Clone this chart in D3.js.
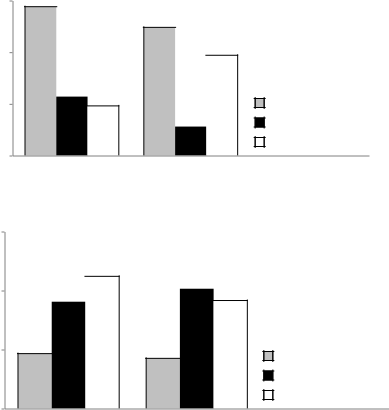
<!DOCTYPE html>
<html>
<head>
<meta charset="utf-8">
<script src="https://cdn.jsdelivr.net/npm/d3@7"></script>
<style>
  body { margin: 0; background: #fff; }
  svg { display: block; }
</style>
</head>
<body>
<svg width="389" height="410"></svg>
<script>
// three slots per chart, the last one only holds the legend
var categories = ["g1", "g2", "g3"];
var series = ["grey", "black", "white"];
var seriesColors = ["#c0c0c0", "#000000", "#ffffff"];
var tickValues = [0, 1, 2, 3];

var topGrey  = [2.88, 2.48];
var topBlack = [1.14, 0.56];
var topWhite = [0.96, 1.94];

var botGrey  = [0.93, 0.85];
var botBlack = [1.81, 2.03];
var botWhite = [2.24, 1.83];

var svg = d3.select("svg");

function drawChart(box, values) {
  var g = svg.append("g");

  var x0 = d3.scaleBand().domain(categories).range([box.left, box.right]).padding(0);
  var x1 = d3.scaleBand().domain(series).range([0, x0.bandwidth()]).paddingInner(0).paddingOuter(0.4);
  var y = d3.scaleLinear().domain([0, 3]).range([box.bottom, box.top]);

  // bars
  values.forEach(function(vals, si) {
    vals.forEach(function(v, ci) {
      var xl = x0(categories[ci]) + x1(series[si]),
          xr = xl + x1.bandwidth(),
          yt = y(v), yb = y(0);
      g.append("rect")
        .attr("x", xl).attr("y", yt)
        .attr("width", xr - xl).attr("height", yb - yt)
        .attr("fill", seriesColors[si]);
      var d = null;
      if (si == 0) d = "M" + xl + "," + yb + "V" + (yt - 1) + "M" + (xl - 1) + "," + yt + "H" + (xr + 1);
      if (si == series.length - 1) d = "M" + (xl - 1) + "," + yt + "H" + (xr + 0.5) + "M" + xr + "," + (yt - 1) + "V" + yb;
      if (d) g.append("path").attr("d", d).attr("stroke", "#000").attr("stroke-width", 1).attr("fill", "none");
    });
  });

  // axes
  var yAxis = g.append("g")
    .attr("transform", "translate(" + box.left + ",0)")
    .call(d3.axisLeft(y).tickValues(tickValues).tickSize(3).tickSizeOuter(0).tickFormat(""));
  var xAxis = g.append("g")
    .attr("transform", "translate(0," + box.bottom + ")")
    .call(d3.axisBottom(x0).tickSize(0).tickSizeOuter(0).tickFormat(""));
  g.selectAll(".domain, .tick line").attr("stroke", "#808080");

  // legend, no labels in the original
  var lx = x0(categories[2]) + box.legendDx, s = 9;
  series.forEach(function(name, i) {
    var ly = box.bottom - 13.5 - (series.length - 1 - i) * 19.5 - s / 2;
    g.append("rect")
      .attr("x", lx).attr("y", ly).attr("width", s).attr("height", s)
      .attr("fill", seriesColors[i]).attr("stroke", "#000").attr("stroke-width", 1);
    g.append("path")
      .attr("d", "M" + (lx - 1.5) + "," + ly + "H" + (lx + s + 1.5) +
                 "M" + (lx - 1.5) + "," + (ly + s) + "H" + (lx + s + 1.5) +
                 "M" + lx + "," + (ly - 1.5) + "V" + (ly + s + 1.5) +
                 "M" + (lx + s) + "," + (ly - 1.5) + "V" + (ly + s + 1.5))
      .attr("stroke", "#000").attr("fill", "none");
  });
}

drawChart({left: 12.5, right: 369, top: 0.5, bottom: 155.5, legendDx: 5},
  [topGrey, topBlack, topWhite]);
drawChart({left: 4.5, right: 389, top: 231.5, bottom: 408.5, legendDx: 3},
  [botGrey, botBlack, botWhite]);
</script>
</body>
</html>
